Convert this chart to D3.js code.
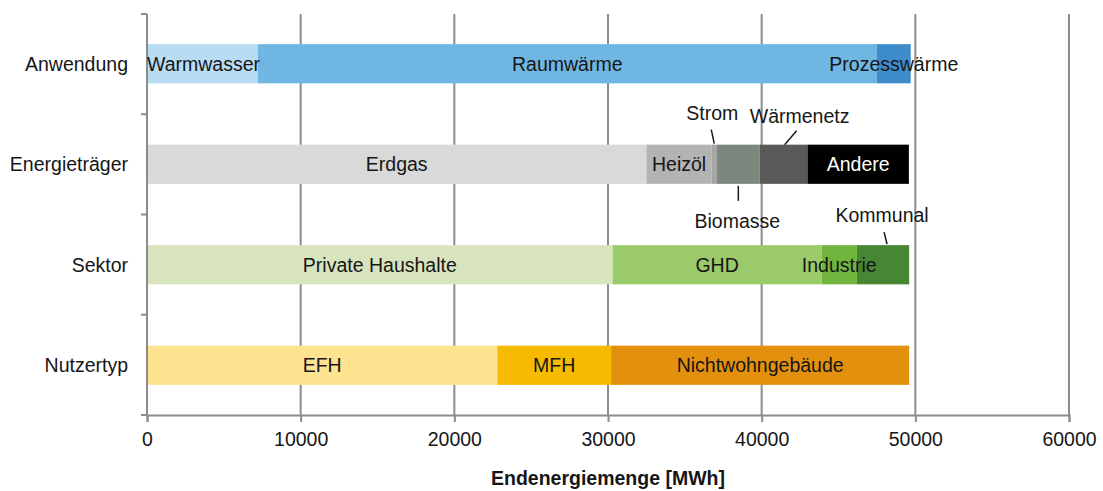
<!DOCTYPE html>
<html>
<head>
<meta charset="utf-8">
<script src="https://cdn.jsdelivr.net/npm/d3@7"></script>
<style>
  html, body { margin: 0; padding: 0; background: #fff; }
  svg { display: block; font-family: "Liberation Sans", Arial, sans-serif; }
</style>
</head>
<body>
<svg id="chart" width="1103" height="491"></svg>
<script>
// ---- data ----
const categories = ["Anwendung", "Energieträger", "Sektor", "Nutzertyp"];
const xTicks = [0, 10000, 20000, 30000, 40000, 50000, 60000];

const anwendungLabels = ["Warmwasser", "Raumwärme", "Prozesswärme"];
const anwendungValues = [7200, 40300, 2200];

const traegerLabels = ["Erdgas", "Heizöl", "Strom", "Biomasse", "Wärmenetz", "Andere"];
const traegerValues = [32500, 4250, 330, 2800, 3100, 6600];

const sektorLabels = ["Private Haushalte", "GHD", "Industrie", "Kommunal"];
const sektorValues = [30300, 13600, 2300, 3400];

const nutzerLabels = ["EFH", "MFH", "Nichtwohngebäude"];
const nutzerValues = [22800, 7400, 19400];

// ---- styles ----
const anwendungColors = ["#b7dcf3", "#70b6e3", "#3f8ccd"];
const traegerColors = ["#d9d9d9", "#b3b3b3", "#a3a7a3", "#7d877e", "#595959", "#000000"];
const sektorColors = ["#d7e4bd", "#9bca6a", "#71b43e", "#478734"];
const nutzerColors = ["#fde290", "#f6bb00", "#e4900f"];

const rows = [
  {cat: categories[0], labels: anwendungLabels, values: anwendungValues, colors: anwendungColors},
  {cat: categories[1], labels: traegerLabels, values: traegerValues, colors: traegerColors},
  {cat: categories[2], labels: sektorLabels, values: sektorValues, colors: sektorColors},
  {cat: categories[3], labels: nutzerLabels, values: nutzerValues, colors: nutzerColors}
];

const labelModes = {
  "Warmwasser": "left", "Raumwärme": "in", "Prozesswärme": "in",
  "Erdgas": "in", "Heizöl": "in", "Strom": "above", "Biomasse": "below",
  "Wärmenetz": "above", "Andere": "in",
  "Private Haushalte": "in", "GHD": "in", "Industrie": "in", "Kommunal": "above",
  "EFH": "in", "MFH": "in", "Nichtwohngebäude": "in"
};
const extOffsets = {
  "Strom": {ldx: -2, ty: -31, l1: [-3, -15], l2: [0, -1]},
  "Wärmenetz": {ldx: 16, ty: -28, l1: [13, -14], l2: [1, 0]},
  "Biomasse": {ldx: -1, ty: 37, l1: [0, 2], l2: [0, 17]},
  "Kommunal": {ldx: -1, ty: -30, l1: [1, -13], l2: [4, -1]}
};

const margin = {top: 14, right: 34, bottom: 76, left: 147};
const W = 1103, H = 491;
const svg = d3.select("#chart");
const x = d3.scaleLinear().domain([0, 60000]).range([margin.left, W - margin.right]);
const y = d3.scaleBand().domain(categories).range([margin.top, H - margin.bottom]).paddingInner(0.61).paddingOuter(0.3);
const axisColor = "#8c8c8c";
const textColor = "#161616";
const fs = 19.5;

// grid
svg.append("g").selectAll("line").data(xTicks.slice(1)).join("line")
  .attr("x1", d => x(d)).attr("x2", d => x(d))
  .attr("y1", margin.top).attr("y2", H - margin.bottom)
  .attr("stroke", axisColor).attr("stroke-width", 2);

// bars
rows.forEach(r => {
  let cum = 0;
  const segs = r.values.map((v, i) => {
    const s = {label: r.labels[i], x0: cum, x1: cum + v, color: r.colors[i]};
    cum += v;
    return s;
  });
  r.segs = segs;
  const g = svg.append("g");
  g.selectAll("rect").data(segs).join("rect")
    .attr("x", d => x(d.x0)).attr("width", d => x(d.x1) - x(d.x0))
    .attr("y", y(r.cat)).attr("height", y.bandwidth())
    .attr("fill", d => d.color);
});

// y axis
const yAxis = svg.append("g").attr("transform", `translate(${margin.left},0)`);
yAxis.append("line").attr("x1", 0).attr("x2", 0).attr("y1", margin.top).attr("y2", H - margin.bottom)
  .attr("stroke", axisColor).attr("stroke-width", 2);
const bounds = d3.range(categories.length + 1).map(i => margin.top + i * (H - margin.bottom - margin.top) / categories.length);
yAxis.selectAll("line.t").data(bounds).join("line").attr("class", "t")
  .attr("x1", -6).attr("x2", 0).attr("y1", d => d).attr("y2", d => d)
  .attr("stroke", axisColor).attr("stroke-width", 2);
yAxis.selectAll("text").data(categories).join("text")
  .attr("x", -19).attr("y", d => y(d) + y.bandwidth() / 2).attr("dy", "0.35em")
  .attr("text-anchor", "end").attr("font-size", fs).attr("fill", textColor).text(d => d);

// x axis
const xAxisG = svg.append("g").attr("transform", `translate(0,${H - margin.bottom})`)
  .call(d3.axisBottom(x).tickValues(xTicks).tickSize(7).tickPadding(10).tickFormat(d3.format("d")));
xAxisG.select(".domain").attr("stroke", axisColor).attr("stroke-width", 2);
xAxisG.selectAll(".tick line").attr("stroke", axisColor).attr("stroke-width", 2);
xAxisG.selectAll(".tick text").attr("font-size", fs).attr("fill", textColor)
  .attr("font-family", "Liberation Sans, Arial, sans-serif");

svg.append("text").attr("x", (x(0) + x(60000)) / 2).attr("y", 485)
  .attr("text-anchor", "middle").attr("font-size", fs).attr("font-weight", "bold")
  .attr("fill", textColor).text("Endenergiemenge [MWh]");

// segment labels
rows.forEach(r => {
  const yc = y(r.cat) + y.bandwidth() / 2;
  r.segs.forEach(s => {
    const mode = labelModes[s.label];
    const cx = (x(s.x0) + x(s.x1)) / 2;
    const col = s.label === "Andere" ? "#ffffff" : textColor;
    if (mode === "in") {
      svg.append("text").attr("x", cx).attr("y", yc).attr("dy", "0.35em")
        .attr("text-anchor", "middle").attr("font-size", fs).attr("fill", col).text(s.label);
    } else if (mode === "left") {
      svg.append("text").attr("x", x(s.x0)).attr("y", yc).attr("dy", "0.35em")
        .attr("text-anchor", "start").attr("font-size", fs).attr("fill", col).text(s.label);
    } else {
      const o = extOffsets[s.label];
      const edge = mode === "above" ? y(r.cat) : y(r.cat) + y.bandwidth();
      svg.append("text").attr("x", cx + o.ldx).attr("y", edge + o.ty).attr("dy", "0.35em")
        .attr("text-anchor", "middle").attr("font-size", fs).attr("fill", textColor).text(s.label);
      svg.append("line")
        .attr("x1", cx + o.l1[0]).attr("y1", edge + o.l1[1])
        .attr("x2", cx + o.l2[0]).attr("y2", edge + o.l2[1])
        .attr("stroke", "#1a1a1a").attr("stroke-width", 1.5);
    }
  });
});
</script>
</body>
</html>
